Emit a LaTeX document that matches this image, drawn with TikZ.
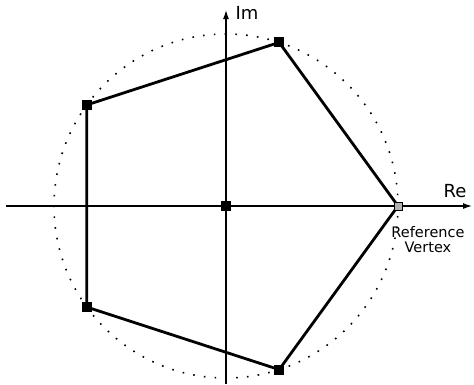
\documentclass[tikz,border=0pt]{standalone}
\usepackage{fontspec}
\setmainfont{DejaVu Sans}
\usetikzlibrary{arrows.meta}
\tikzset{
  axis/.style={line width=1.2pt,-{Latex[length=9pt,width=6pt]}},
  edge/.style={line width=2.8pt,line join=miter},
  vsq/.style={fill=black,minimum size=10pt,inner sep=0pt},
  refsq/.style={fill=gray!60,draw=black,line width=1pt,minimum size=8pt,inner sep=0pt},
  axlabel/.style={font=\fontsize{18}{21}\selectfont,inner sep=0pt},
}
\begin{document}
\begin{tikzpicture}[x=1pt,y=1pt,>=Latex]
\useasboundingbox (-226,-178) rectangle (248,206);
% circle and axes
\draw[line width=1.6pt,dash pattern=on 1.6pt off 9.2pt] (0,0) circle (172);
\coordinate (xa) at (-220,0);
\coordinate (xb) at (246,0);
\coordinate (ya) at (0,-178);
\coordinate (yb) at (0,196);
\draw[axis] (xa) -- (xb);
\draw[axis] (ya) -- (yb);
\node[axlabel,anchor=base] (re) at (229,9) {Re};
\node[axlabel,anchor=base] (im) at (21,187) {Im};
% pentagon
\foreach \i/\a in {0/0,1/72,2/144,3/216,4/288}
  \coordinate (p\i) at (\a:172);
\draw[edge] (p0) -- (p1) -- (p2) -- (p3) -- (p4) -- cycle;
\foreach \i in {1,...,4}
  \node[vsq] (v\i) at (p\i) {};
\node[vsq] (o) at (0,0) {};
\node[refsq] (v0) at (p0) {};
\node[font=\fontsize{14.5}{15.5}\selectfont,align=center,anchor=north,inner sep=0pt] (reflab) at (202,-20) {Reference\\Vertex};
\end{tikzpicture}
\end{document}
